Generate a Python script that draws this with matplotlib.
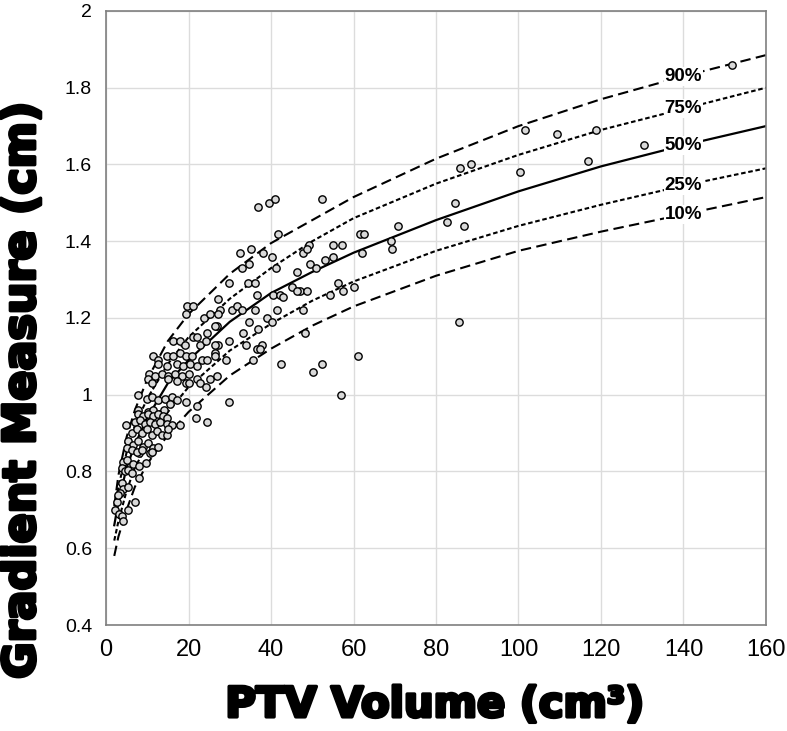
import matplotlib
matplotlib.use("Agg")
import matplotlib.pyplot as plt
import matplotlib.patheffects as pe
import numpy as np

# scatter points (PTV volume cm3, gradient measure cm)
ptv_vol = [52.4, 151.7, 101.6, 109.3, 118.7, 130.5, 116.8, 100.4, 85.7, 88.5,
           84.5, 82.7, 86.9, 85.5, 70.7, 69.1, 69.3, 61.6, 62.6, 62.0,
           61.0, 57.0, 52.4, 50.1, 47.8, 49.2, 49.5, 50.8, 53.1, 55.1,
           55.1, 57.3, 47.0, 48.8, 56.2, 57.4, 60.1, 54.4, 47.8, 48.2,
           36.9, 39.5, 41.0, 41.6, 32.5, 35.1, 38.1, 40.3, 32.9, 34.7,
           41.2, 48.7, 46.2, 29.7, 34.5, 36.0, 45.0, 46.2, 36.5, 27.2,
           40.6, 42.2, 43.0, 27.6, 30.6, 31.7, 33.0, 36.1, 41.4, 26.8,
           34.7, 39.0, 40.3, 36.8, 33.3, 29.7, 33.9, 27.2, 37.9, 36.5,
           37.3, 29.1, 35.7, 26.4, 42.4, 29.7,
           19.7, 21.2, 19.4, 23.8, 25.2, 27.2, 26.4, 16.3, 17.9, 21.0,
           22.0, 24.4, 19.2, 22.8, 24.2, 26.4, 11.5, 12.7, 14.7, 16.3,
           17.9, 19.4, 20.8, 23.2, 24.4, 26.4, 12.7, 14.7, 17.1, 18.7,
           20.4, 22.0, 10.5, 11.9, 13.5, 15.1, 16.7, 18.4, 20.0, 10.3,
           11.1, 15.1, 17.1, 19.4, 20.2, 22.0, 22.8, 24.2, 25.2, 26.8,
           7.8, 9.9, 11.1, 12.7, 14.3, 15.9, 17.1, 15.5, 19.4, 22.0,
           7.8, 10.1, 11.3, 13.0, 14.1, 4.8, 17.9, 21.8, 24.4,
           7.8, 9.0, 10.3, 11.5, 12.7, 13.9, 14.7,
           7.0, 8.2, 9.5, 10.7, 11.9, 13.1, 14.7, 15.9,
           6.2, 7.4, 8.7, 9.9, 11.1, 12.3, 13.5, 14.7, 15.1,
           5.4, 6.6, 7.8, 9.0, 10.3, 11.5, 12.7,
           10.7, 8.1, 11.1, 5.0, 6.2, 7.4, 8.7,
           4.2, 5.0, 6.6, 8.1, 9.7, 3.8, 4.6, 5.4, 6.2,
           8.1, 3.8, 4.2, 3.4, 5.4, 7.0, 5.4, 2.2, 3.2, 3.8, 4.2, 2.6, 3.0]
grad_meas = [1.51, 1.86, 1.69, 1.68, 1.69, 1.65, 1.61, 1.58, 1.59, 1.60,
             1.50, 1.45, 1.44, 1.19, 1.44, 1.40, 1.38, 1.42, 1.42, 1.37,
             1.10, 1.00, 1.08, 1.06, 1.37, 1.39, 1.34, 1.33, 1.35, 1.36,
             1.39, 1.39, 1.27, 1.27, 1.29, 1.27, 1.28, 1.26, 1.22, 1.16,
             1.49, 1.50, 1.51, 1.42, 1.37, 1.38, 1.37, 1.36, 1.33, 1.34,
             1.33, 1.38, 1.32, 1.29, 1.29, 1.29, 1.28, 1.27, 1.26, 1.25,
             1.26, 1.26, 1.255, 1.22, 1.22, 1.23, 1.22, 1.22, 1.22, 1.18,
             1.19, 1.20, 1.19, 1.17, 1.16, 1.14, 1.13, 1.13, 1.13, 1.12,
             1.12, 1.09, 1.09, 1.11, 1.08, 0.98,
             1.23, 1.23, 1.21, 1.20, 1.21, 1.21, 1.18, 1.14, 1.14, 1.15,
             1.15, 1.16, 1.13, 1.13, 1.14, 1.13, 1.10, 1.09, 1.10, 1.10,
             1.11, 1.10, 1.10, 1.09, 1.09, 1.10, 1.08, 1.075, 1.08, 1.075,
             1.08, 1.075, 1.055, 1.05, 1.055, 1.05, 1.055, 1.05, 1.055, 1.04,
             1.03, 1.04, 1.035, 1.03, 1.03, 1.04, 1.03, 1.02, 1.04, 1.05,
             1.00, 0.99, 0.995, 0.985, 0.99, 0.995, 0.985, 0.975, 0.98, 0.97,
             0.96, 0.955, 0.96, 0.95, 0.96, 0.92, 0.92, 0.94, 0.93,
             0.95, 0.945, 0.95, 0.945, 0.95, 0.945, 0.94,
             0.93, 0.935, 0.925, 0.93, 0.925, 0.93, 0.925, 0.92,
             0.90, 0.91, 0.90, 0.91, 0.895, 0.905, 0.895, 0.895, 0.91,
             0.88, 0.87, 0.88, 0.865, 0.875, 0.86, 0.865,
             0.848, 0.847, 0.852, 0.86, 0.855, 0.85, 0.855,
             0.826, 0.83, 0.82, 0.815, 0.821, 0.81, 0.80, 0.805, 0.795,
             0.782, 0.77, 0.755, 0.745, 0.76, 0.72, 0.70, 0.70, 0.69, 0.684, 0.67, 0.72, 0.74]

# percentile curves read at these volumes
curve_x = [2, 3, 5, 7, 10, 15, 20, 30, 40, 50, 60, 80, 100, 120, 140, 160]
p90 = [0.71, 0.79, 0.89, 0.96, 1.04, 1.14, 1.21, 1.315, 1.395, 1.455, 1.515, 1.615, 1.70, 1.77, 1.83, 1.885]
p75 = [0.69, 0.76, 0.85, 0.92, 0.99, 1.08, 1.15, 1.25, 1.33, 1.40, 1.46, 1.55, 1.625, 1.69, 1.745, 1.80]
p50 = [0.66, 0.72, 0.81, 0.87, 0.94, 1.03, 1.09, 1.19, 1.265, 1.32, 1.37, 1.455, 1.53, 1.595, 1.65, 1.70]
p25 = [0.62, 0.67, 0.75, 0.81, 0.87, 0.955, 1.02, 1.115, 1.185, 1.245, 1.295, 1.375, 1.44, 1.495, 1.545, 1.59]
p10 = [0.58, 0.63, 0.70, 0.76, 0.82, 0.895, 0.955, 1.05, 1.12, 1.18, 1.23, 1.31, 1.375, 1.425, 1.47, 1.515]

x_ticks = [0, 20, 40, 60, 80, 100, 120, 140, 160]
y_ticks = [0.4, 0.6, 0.8, 1.0, 1.2, 1.4, 1.6, 1.8, 2.0]
y_ticklabels = ['0.4', '0.6', '0.8', '1', '1.2', '1.4', '1.6', '1.8', '2']

fig = plt.figure(figsize=(7.87, 7.31), dpi=100)
ax = fig.add_axes([0.1347, 0.145, 0.8386, 0.840])

long_dash = (0, (5, 2.6))
short_dash = (0, (2.2, 1.3))
curves = [(p90, long_dash, '90%'), (p75, short_dash, '75%'), (p50, '-', '50%'),
          (p25, short_dash, '25%'), (p10, long_dash, '10%')]
for vals, ls, lab in curves:
    ax.plot(curve_x, vals, color='black', linestyle=ls, lw=1.6 if ls == '-' else 1.5, zorder=2)
    ax.text(140, np.interp(140, curve_x, vals), lab, ha='center', va='center',
            fontsize=13.5, fontweight='bold', family=['Liberation Sans', 'DejaVu Sans'],
            bbox=dict(facecolor='white', edgecolor='none', pad=0.8), zorder=4)

ax.scatter(ptv_vol, grad_meas, s=28, facecolor='#d9d9d9', edgecolor='black',
           linewidths=1.0, zorder=3)

ax.set_xlim(0, 160)
ax.set_ylim(0.4, 2.0)
ax.set_xticks(x_ticks)
ax.set_yticks(y_ticks)
ax.set_yticklabels(y_ticklabels)
ax.grid(True, color='#dcdcdc', linewidth=1.0)
ax.set_axisbelow(True)
ax.tick_params(length=0, pad=10)
for lbl in ax.get_xticklabels():
    lbl.set_fontsize(17)
    lbl.set_family(['Liberation Sans', 'DejaVu Sans'])
for lbl in ax.get_yticklabels():
    lbl.set_fontsize(14)
    lbl.set_family(['Liberation Sans', 'DejaVu Sans'])
for sp in ax.spines.values():
    sp.set_color('#7f7f7f')
    sp.set_linewidth(1.2)

heavy = [pe.withStroke(linewidth=2.5, foreground='black')]
ax.set_xlabel('PTV Volume (cm³)', fontsize=30, fontweight='bold',
              family=['DejaVu Sans'], path_effects=heavy, va='center')
ax.set_ylabel('Gradient Measure (cm)', fontsize=32, fontweight='bold',
              family=['DejaVu Sans'], path_effects=heavy, va='center')
ax.xaxis.set_label_coords(0.498, -0.130)
ax.yaxis.set_label_coords(-0.127, 0.383)

fig.savefig('out.png', dpi=100)
